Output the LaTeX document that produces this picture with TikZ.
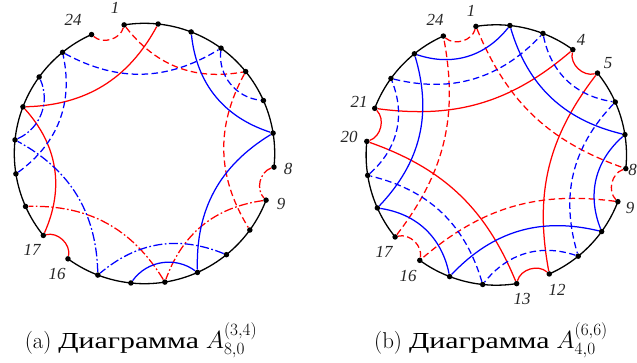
\documentclass[tikz,border=0pt]{standalone}
\usepackage{fontspec}
\usepackage{amsmath}
\usepackage{xcolor}
\newfontfamily\numfont{Liberation Serif}
\newfontfamily\cyrfont[FakeStretch=1.3]{Liberation Serif}
\usetikzlibrary{positioning}
\definecolor{chordred}{RGB}{255,0,0}
\definecolor{chordblue}{RGB}{0,0,255}

\begin{document}
\begin{tikzpicture}[
    x=1bp, y=1bp,
    pt/.style={circle, fill=black, inner sep=0pt, minimum size=5.5bp},
    lab/.style={font=\numfont\itshape\fontsize{17}{17}\selectfont, text=black!85, inner sep=0pt},
    capt/.style={font=\fontsize{23}{26}\selectfont, anchor=base, inner sep=0pt},
    rim/.style={line width=1.3bp, black},
    rsolid/.style={line width=1.25bp, chordred},
    rdash/.style={line width=1.25bp, chordred, dash pattern=on 6.5bp off 3.5bp},
    rdot/.style={line width=1.25bp, chordred, dash pattern=on 9bp off 2.5bp on 1.7bp off 2.5bp},
    bsolid/.style={line width=1.25bp, chordblue},
    bdash/.style={line width=1.25bp, chordblue, dash pattern=on 6.5bp off 3.5bp},
    bdot/.style={line width=1.25bp, chordblue, dash pattern=on 9bp off 2.5bp on 1.7bp off 2.5bp}
]
    \useasboundingbox (0,0) rectangle (637,362);

    % points on the two circles
    \foreach \i in {1,...,24} {
        \node[pt] (a\i) at ({144.5+130.2*cos(99-15*(\i-1))},{208.5+130.2*sin(99-15*(\i-1))}) {};
        \node[pt] (b\i) at ({496.3+130.2*cos(99-15*(\i-1))},{207+130.2*sin(99-15*(\i-1))}) {};
    }

    % left circle
    \draw[rim] (a1.center) arc[start angle=99, end angle=-6, radius=130.2];
    \draw[rim] (a9.center) arc[start angle=-21, end angle=-126, radius=130.2];
    \draw[rim] (a17.center) arc[start angle=-141, end angle=-246, radius=130.2];
    \foreach \s/\t/\b in {16/17/58, 21/2/30, 17/21/33}
        \draw[rsolid] (a\s) to[bend right=\b] (a\t);
    \foreach \s/\t/\b in {24/1/58, 1/5/31, 5/10/30}
        \draw[rdash] (a\s) to[bend right=\b] (a\t);
    \foreach \s/\t/\b in {8/9/58, 9/13/31, 13/18/30}
        \draw[rdot] (a\s) to[bend right=\b] (a\t);
    \foreach \s/\t/\b in {23/4/30, 19/23/33, 4/6/45}
        \draw[bdash] (a\s) to[bend right=\b] (a\t);
    \foreach \s/\t/\b in {3/7/33, 7/12/30, 12/14/45}
        \draw[bsolid] (a\s) to[bend right=\b] (a\t);
    \foreach \s/\t/\b in {20/22/45, 15/20/30, 11/15/31}
        \draw[bdot] (a\s) to[bend right=\b] (a\t);

    % right circle
    \draw[rim] (b1.center) arc[start angle=99, end angle=54, radius=130.2];
    \draw[rim] (b5.center) arc[start angle=39, end angle=-6, radius=130.2];
    \draw[rim] (b9.center) arc[start angle=-21, end angle=-66, radius=130.2];
    \draw[rim] (b13.center) arc[start angle=-81, end angle=-126, radius=130.2];
    \draw[rim] (b17.center) arc[start angle=-141, end angle=-186, radius=130.2];
    \draw[rim] (b21.center) arc[start angle=-201, end angle=-246, radius=130.2];
    \foreach \s/\t/\b in {4/5/58, 12/13/58, 20/21/58, 21/4/24, 5/12/24, 13/20/24}
        \draw[rsolid] (b\s) to[bend right=\b] (b\t);
    \foreach \s/\t/\b in {24/1/58, 8/9/58, 16/17/58, 17/24/24, 1/8/24, 9/16/24}
        \draw[rdash] (b\s) to[bend right=\b] (b\t);
    \foreach \s/\t/\b in {23/2/35, 7/10/35, 15/18/35, 18/23/30, 2/7/30, 10/15/30}
        \draw[bsolid] (b\s) to[bend right=\b] (b\t);
    \foreach \s/\t/\b in {19/22/35, 3/6/35, 11/14/35, 22/3/30, 6/11/30, 14/19/30}
        \draw[bdash] (b\s) to[bend right=\b] (b\t);

    % numbers
    \node[lab] (la1) at (115,354) {1};
    \node[lab] (la24) at (73,342) {24};
    \node[lab] (la8) at (288,193) {8};
    \node[lab] (la9) at (281,158) {9};
    \node[lab] (la17) at (32,112) {17};
    \node[lab] (la16) at (57,88) {16};

    \node[lab] (lb1) at (471,351) {1};
    \node[lab] (lb24) at (435,342) {24};
    \node[lab] (lb21) at (359,260) {21};
    \node[lab] (lb20) at (349,225) {20};
    \node[lab] (lb4) at (581,322) {4};
    \node[lab] (lb5) at (608,299) {5};
    \node[lab] (lb8) at (632.5,192) {8};
    \node[lab] (lb9) at (630,154) {9};
    \node[lab] (lb12) at (557,72) {12};
    \node[lab] (lb13) at (522,63) {13};
    \node[lab] (lb17) at (384,110) {17};
    \node[lab] (lb16) at (408,86) {16};

    \node[capt] (capa) at (141,14) {(a) {\cyrfont Диаграмма} $A_{8,0}^{(3,4)}$};
    \node[capt] (capb) at (491,14) {(b) {\cyrfont Диаграмма} $A_{4,0}^{(6,6)}$};
\end{tikzpicture}
\end{document}
